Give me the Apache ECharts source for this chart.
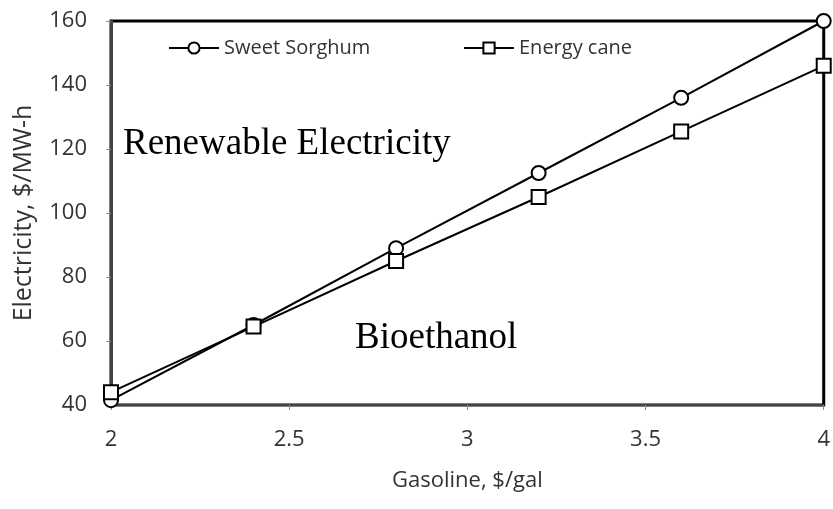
<html lang="en">
  <head>
    <meta charset="UTF-8" />
    <title>Electricity vs Gasoline</title>
    <style>
      body { margin: 0; background: #fff; }
      #main { width: 833px; height: 509px; }
    </style>
  </head>
  <body>
    <div id="main"></div>

    <script src="https://cdn.jsdelivr.net/npm/echarts@6/dist/echarts.min.js"></script>
    <script>
      let gasoline = [2, 2.4, 2.8, 3.2, 3.6, 4]
      let sorghum = [41.5, 65, 89, 112.5, 136, 160]
      let cane = [44, 64.5, 85, 105, 125.5, 146]
      let seriesNames = ['Sweet Sorghum', 'Energy cane']

      let myChart = echarts.init(document.getElementById('main'))
      let sans = 'Open Sans'
      let tickFont = { fontFamily: sans, fontSize: 22, color: '#333' }

      function pairs(ys) {
        return gasoline.map((x, i) => [x, ys[i]])
      }

      let lineSeries = (name, data, symbol) => ({
        name: name,
        type: 'line',
        data: pairs(data),
        symbol: symbol,
        symbolSize: 14,
        showAllSymbol: true,
        lineStyle: { color: '#000', width: 2 },
        itemStyle: { color: '#fff', borderColor: '#000', borderWidth: 2 },
        emphasis: { disabled: true },
        z: 3
      })

      let legendBox = (name, left) => ({
        left: left,
        top: 33,
        itemWidth: 50,
        itemHeight: 14,
        textStyle: { fontFamily: sans, fontSize: 20, color: '#333' },
        data: [name]
      })

      let option = {
        animation: false,
        grid: {
          left: 111,
          right: 6,
          top: 21,
          bottom: 104,
          show: true,
          borderColor: '#000',
          borderWidth: 3
        },
        legend: [legendBox(seriesNames[0], 163), legendBox(seriesNames[1], 458)],
        xAxis: {
          type: 'value',
          min: 2,
          max: 4,
          interval: 0.5,
          name: 'Gasoline, $/gal',
          nameLocation: 'middle',
          nameGap: 65,
          nameTextStyle: { fontFamily: sans, fontSize: 22, color: '#333' },
          axisLine: { show: true, lineStyle: { color: '#444', width: 2 } },
          axisTick: { show: true, length: 5, lineStyle: { color: '#888' } },
          axisLabel: Object.assign({ margin: 24 }, tickFont),
          splitLine: { show: false }
        },
        yAxis: {
          type: 'value',
          min: 40,
          max: 160,
          interval: 20,
          name: 'Electricity, $/MW-h',
          nameLocation: 'middle',
          nameGap: 75,
          nameTextStyle: { fontFamily: sans, fontSize: 25, color: '#333' },
          axisLine: { show: true, lineStyle: { color: '#444', width: 3 } },
          axisTick: { show: true, length: 5, lineStyle: { color: '#888' } },
          axisLabel: Object.assign({ margin: 24 }, tickFont),
          splitLine: { show: false }
        },
        graphic: [
          {
            type: 'text',
            left: 123,
            top: 126,
            style: { text: 'Renewable Electricity', font: '37px "Liberation Serif"', fill: '#000' }
          },
          {
            type: 'text',
            left: 355,
            top: 320,
            style: { text: 'Bioethanol', font: '37px "Liberation Serif"', fill: '#000' }
          }
        ],
        series: [
          lineSeries(seriesNames[0], sorghum, 'circle'),
          lineSeries(seriesNames[1], cane, 'rect')
        ]
      }
      myChart.setOption(option)
    </script>
  </body>
</html>
